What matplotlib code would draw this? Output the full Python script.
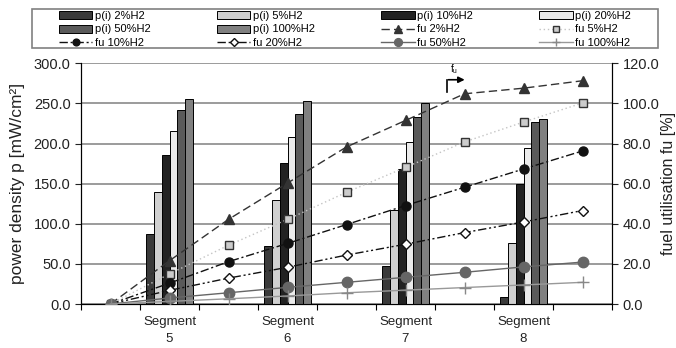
import numpy as np
import matplotlib
matplotlib.use('Agg')
import matplotlib.pyplot as plt
from matplotlib.ticker import FormatStrFormatter, FixedLocator
from matplotlib.patches import Rectangle

plt.rcParams['font.family'] = ['Liberation Sans', 'DejaVu Sans']

# categories along the x axis (9 slots, bars only on the segments)
categories = ['', 'Segment\n5', '', 'Segment\n6', '', 'Segment\n7', '', 'Segment\n8', '']
segments = ['Segment\n5', 'Segment\n6', 'Segment\n7', 'Segment\n8']

# power density p(i) [mW/cm2] per segment
p2 = [87, 72, 47, 9]
p5 = [139, 129, 117, 76]
p10 = [186, 176, 168, 150]
p20 = [216, 208, 202, 194]
p50 = [242, 237, 233, 227]
p100 = [255, 253, 250, 231]

# fuel utilisation fu [%] over all 9 slots
fu2 = [0, 21.6, 42.2, 60.3, 78.3, 91.5, 104.8, 107.6, 111.3]
fu5 = [0, 15.0, 29.3, 42.2, 55.7, 68.1, 80.8, 90.7, 100.2]
fu10 = [0, 10.4, 21.1, 30.2, 39.6, 49.1, 58.2, 67.3, 76.3]
fu20 = [0, 6.8, 12.9, 18.3, 24.4, 29.8, 35.6, 40.9, 46.6]
fu50 = [0, 3.0, 5.6, 8.3, 10.8, 13.3, 15.8, 18.5, 20.9]
fu100 = [0, 1.3, 2.6, 4.0, 5.6, 6.9, 8.2, 9.5, 10.8]

bar_series = [
    ('p(i) 2%H2', p2, '#3a3a3a'),
    ('p(i) 5%H2', p5, '#d0d0d0'),
    ('p(i) 10%H2', p10, '#222222'),
    ('p(i) 20%H2', p20, '#ebebeb'),
    ('p(i) 50%H2', p50, '#5a5a5a'),
    ('p(i) 100%H2', p100, '#808080'),
]

fig = plt.figure(figsize=(6.76, 3.48), dpi=100)
ax = fig.add_axes([81 / 676, 1 - 304 / 348, 531 / 676, 240.7 / 348])
ax2 = ax.twinx()

x = np.arange(len(categories))
seg_x = np.array([categories.index(s) for s in segments])
bw = 0.8 / len(bar_series)

handles = {}
for i, (lab, vals, col) in enumerate(bar_series):
    h = ax.bar(seg_x + (i - 2.5) * bw, vals, bw, color=col, edgecolor='black',
               linewidth=0.7, label=lab, zorder=3)
    handles[lab] = h

ax.set_ylim(0, 300)
ax.set_xlim(-0.5, len(categories) - 0.5)
ax.yaxis.set_major_locator(FixedLocator(np.arange(0, 301, 50)))
ax.yaxis.set_major_formatter(FormatStrFormatter('%.1f'))
ax.grid(axis='y', color='#8a8a8a', linewidth=1.2, zorder=0)
ax.set_axisbelow(True)

ax.set_xticks(np.arange(-0.5, len(categories), 1.0))
ax.set_xticklabels([])
ax.set_xticks(x, minor=True)
ax.set_xticklabels(categories, minor=True, fontsize=9.5, color='#222222', linespacing=1.45)
ax.tick_params(axis='x', which='minor', length=0, pad=9)
ax.tick_params(axis='x', which='major', length=4, direction='out')
ax.tick_params(axis='y', labelsize=10.5, colors='#222222', length=4)
for s in ['top']:
    ax.spines[s].set_visible(False)
    ax2.spines[s].set_visible(False)

ax.set_ylabel('power density p [mW/cm²]', fontsize=12.5, color='#222222', labelpad=6)

line_series = [
    ('fu 2%H2', fu2, '#333333', (0, (6, 3)), '^', '#333333', '#333333', 7),
    ('fu 5%H2', fu5, '#c4c4c4', (0, (1, 2)), 's', '#cccccc', '#333333', 6),
    ('fu 10%H2', fu10, '#111111', (0, (6, 2, 1.5, 2)), 'o', '#111111', '#111111', 6.5),
    ('fu 20%H2', fu20, '#111111', (0, (6, 2, 1.5, 2, 1.5, 2)), 'D', 'white', '#111111', 5),
    ('fu 50%H2', fu50, '#666666', '-', 'o', '#666666', '#666666', 7.5),
    ('fu 100%H2', fu100, '#999999', '-', '+', '#888888', '#888888', 8),
]
for lab, vals, col, ls, mk, mfc, mec, ms in line_series:
    h, = ax2.plot(x, vals, color=col, linestyle=ls, linewidth=1.0, marker=mk,
                  markerfacecolor=mfc, markeredgecolor=mec, markersize=ms,
                  markeredgewidth=1.0, label=lab, zorder=4)
    handles[lab] = h

ax2.set_ylim(0, 120)
ax2.yaxis.set_major_locator(FixedLocator(np.arange(0, 121, 20)))
ax2.yaxis.set_major_formatter(FormatStrFormatter('%.1f'))
ax2.tick_params(axis='y', labelsize=10.5, colors='#222222', length=4)
ax2.set_ylabel('fuel utilisation fu [%]', fontsize=11.5, color='#222222', labelpad=1)

# f_u arrow pointing to the right axis
ax2.plot([5.70, 5.70], [105.5, 111.8], color='black', linewidth=1.2, zorder=5)
ax2.annotate('', xy=(6.05, 111.8), xytext=(5.68, 111.8),
             arrowprops=dict(arrowstyle='-|>', color='black', lw=1.2, mutation_scale=9), zorder=5)
ax2.text(5.76, 113.5, r'f$_\mathregular{u}$', fontsize=7, ha='left', va='bottom')

# legend in row-major order of the reference, 4 columns x 3 rows
order = ['p(i) 2%H2', 'p(i) 50%H2', 'fu 10%H2',
         'p(i) 5%H2', 'p(i) 100%H2', 'fu 20%H2',
         'p(i) 10%H2', 'fu 2%H2', 'fu 50%H2',
         'p(i) 20%H2', 'fu 5%H2', 'fu 100%H2']
leg = fig.legend([handles[k] for k in order], order, ncol=4, loc='center',
                 bbox_to_anchor=(345 / 676, 1 - 29.5 / 348), frameon=False,
                 fontsize=8, handlelength=3.0, handletextpad=0.2, columnspacing=6.0,
                 labelspacing=0.32, borderpad=0.2, markerscale=0.75)
fig.patches.append(Rectangle((32 / 676, 1 - 48 / 348), 626 / 676, 39 / 348,
                             transform=fig.transFigure, fill=False,
                             edgecolor='#808080', linewidth=1.2))

fig.savefig('out.png', dpi=100)
